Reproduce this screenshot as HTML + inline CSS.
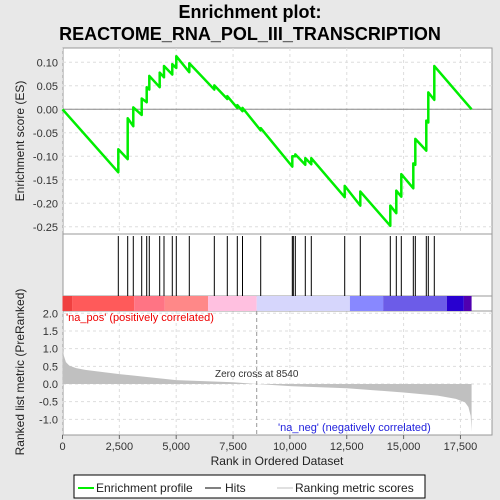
<!DOCTYPE html>
<html><head><meta charset="utf-8"><style>
body{margin:0;background:#e8e8e8;}
svg{display:block;font-family:"Liberation Sans",sans-serif;}
</style></head><body>
<svg id="c" width="500" height="500"></svg>
<script>
const hitRanks=[2454,2867,3113,3483,3703,3817,4274,4463,4828,5004,5576,6676,7247,7687,7916,8716,10106,10150,10238,10677,10941,12410,13096,14415,14679,14899,15427,15515,15998,16086,16350];
const esBefore=[-0.134,-0.106,-0.036,-0.012,0.015,0.042,0.047,0.068,0.074,0.088,0.079,0.042,0.022,0.003,-0.004,-0.045,-0.122,-0.100,-0.100,-0.118,-0.117,-0.187,-0.205,-0.248,-0.221,-0.186,-0.168,-0.118,-0.088,-0.028,0.020];
const esAfter=[-0.085,-0.019,0.004,0.023,0.047,0.071,0.078,0.092,0.096,0.113,0.098,0.051,0.028,0.009,0.003,-0.040,-0.100,-0.100,-0.096,-0.104,-0.104,-0.163,-0.175,-0.205,-0.173,-0.138,-0.115,-0.063,-0.024,0.036,0.092];
const totalN=17990;
const metricRanks=[0,60,150,300,600,1000,2500,5000,7500,8540,10000,12500,15000,16500,17300,17700,17850,17950,17990];
const metricVals=[1.05,0.8,0.62,0.52,0.45,0.4,0.28,0.11,0.05,0,-0.06,-0.12,-0.24,-0.33,-0.42,-0.52,-0.65,-0.9,-1.35];
const xTicks=[0,2500,5000,7500,10000,12500,15000,17500];
const esTicks=[0.10,0.05,0.00,-0.05,-0.10,-0.15,-0.20,-0.25];
const mTicks=[2.0,1.5,1.0,0.5,0.0,-0.5,-1.0];
const barSegs=[[0,420,"#f04040"],[420,3150,"#ff5a5a"],[3150,4500,"#ff7484"],[4500,6400,"#ff8888"],[6400,8540,"#ffc0e0"],[8540,12640,"#d6d6fc"],[12640,14100,"#8888ff"],[14100,16900,"#6c5ce8"],[16900,17650,"#2800d0"],[17650,17990,"#5000b0"]];

const L=63,R=492,T1=48,B1=234,B2=296,B3=311,B4=435;
const sx=r=>62.5+r*0.02274;
const sy=v=>109.3-v*470;
const my=v=>384-v*35.35;
const svg=document.getElementById('c');
const NS="http://www.w3.org/2000/svg";
function el(t,a,txt){const e=document.createElementNS(NS,t);for(const k in a)e.setAttribute(k,a[k]);if(txt!=null)e.textContent=txt;svg.appendChild(e);return e;}
let e;
e=el('text',{x:250,y:18,'text-anchor':'middle','font-size':'18','font-weight':'bold',fill:'#000'},'Enrichment plot:');


e=el('text',{x:250,y:40,'text-anchor':'middle','font-size':'18','font-weight':'bold',fill:'#000'},'REACTOME_RNA_POL_III_TRANSCRIPTION');


e=el('rect',{x:L,y:T1,width:R-L,height:B4-T1,fill:'#fff',stroke:'#999'});


xTicks.forEach(t=>{
 e=el('line',{x1:sx(t),x2:sx(t),y1:T1,y2:B1,stroke:'#ddd','stroke-dasharray':'3,3'});
 
 
 e=el('line',{x1:sx(t),x2:sx(t),y1:B3,y2:B4,stroke:'#ddd','stroke-dasharray':'3,3'});
 
 
 e=el('line',{x1:sx(t),x2:sx(t),y1:B4,y2:B4+4,stroke:'#666'});
 
 
 e=el('text',{x:sx(t),y:B4+15,'text-anchor':'middle','font-size':'11',fill:'#333'},t.toLocaleString('en-US'));
 
 
});
esTicks.forEach(t=>{
 e=el('line',{x1:L,x2:R,y1:sy(t),y2:sy(t),stroke:'#ddd','stroke-dasharray':'3,3'});
 
 
 e=el('text',{x:L-5,y:sy(t)+4,'text-anchor':'end','font-size':'11',fill:'#333'},t.toFixed(2));
 
 
});
mTicks.forEach(t=>{
 e=el('line',{x1:L,x2:R,y1:my(t),y2:my(t),stroke:'#ddd','stroke-dasharray':'3,3'});
 
 
 e=el('text',{x:L-5,y:my(t)+4,'text-anchor':'end','font-size':'11',fill:'#333'},t.toFixed(1));
 
 
});
e=el('line',{x1:L,x2:R,y1:sy(0),y2:sy(0),stroke:'#888'});


[B1,B2,B3].forEach(y=>{e=el('line',{x1:L,x2:R,y1:y,y2:y,stroke:'#999'});
 
 });
barSegs.forEach(s=>{e=el('rect',{x:sx(s[0]),y:B2,width:sx(s[1])-sx(s[0]),height:B3-B2,fill:s[2]});
 
 });
hitRanks.forEach(r=>{e=el('line',{x1:sx(r),x2:sx(r),y1:B1+2,y2:B2,stroke:'#000','stroke-width':1});
 
 });
let d=`M${sx(0)},${my(0)}`;
metricRanks.forEach((r,i)=>{d+=` L${sx(r)},${my(metricVals[i])}`});
d+=` L${sx(totalN)},${my(0)} Z`;
e=el('path',{d:d,fill:'#c0c0c0',stroke:'none'});


e=el('line',{x1:sx(8540),x2:sx(8540),y1:B3,y2:B4,stroke:'#999','stroke-dasharray':'4,3'});


e=el('text',{x:sx(8540),y:377,'text-anchor':'middle','font-size':'10',fill:'#333'},'Zero cross at 8540');


e=el('text',{x:66,y:321,'font-size':'11',fill:'#e00'},"'na_pos' (positively correlated)");


e=el('text',{x:278,y:431,'font-size':'11',fill:'#22d'},"'na_neg' (negatively correlated)");


let p=`M${sx(0)},${sy(0)}`;
hitRanks.forEach((r,i)=>{p+=` L${sx(r)},${sy(esBefore[i])} L${sx(r)},${sy(esAfter[i])}`});
p+=` L${sx(totalN)},${sy(0)}`;
e=el('path',{d:p,fill:'none',stroke:'#00ee00','stroke-width':2.5,'stroke-linejoin':'round'});


e=el('text',{transform:`translate(24,141) rotate(-90)`,'text-anchor':'middle','font-size':'12',fill:'#222'},'Enrichment score (ES)');


e=el('text',{transform:`translate(24,372) rotate(-90)`,'text-anchor':'middle','font-size':'12',fill:'#222'},'Ranked list metric (PreRanked)');


e=el('text',{x:277,y:465,'text-anchor':'middle','font-size':'12',fill:'#222'},'Rank in Ordered Dataset');


e=el('rect',{x:74,y:475,width:351,height:23,fill:'#fff',stroke:'#000'});


e=el('line',{x1:78,x2:94,y1:488,y2:488,stroke:'#00ee00','stroke-width':2});


e=el('text',{x:96,y:492,'font-size':'12',fill:'#222'},'Enrichment profile');


e=el('line',{x1:205,x2:221,y1:488,y2:488,stroke:'#000','stroke-width':1});


e=el('text',{x:225,y:492,'font-size':'12',fill:'#222'},'Hits');


e=el('line',{x1:277,x2:293,y1:488,y2:488,stroke:'#c0c0c0','stroke-width':1});


e=el('text',{x:295,y:492,'font-size':'12',fill:'#222'},'Ranking metric scores');


</script>
</body></html>
